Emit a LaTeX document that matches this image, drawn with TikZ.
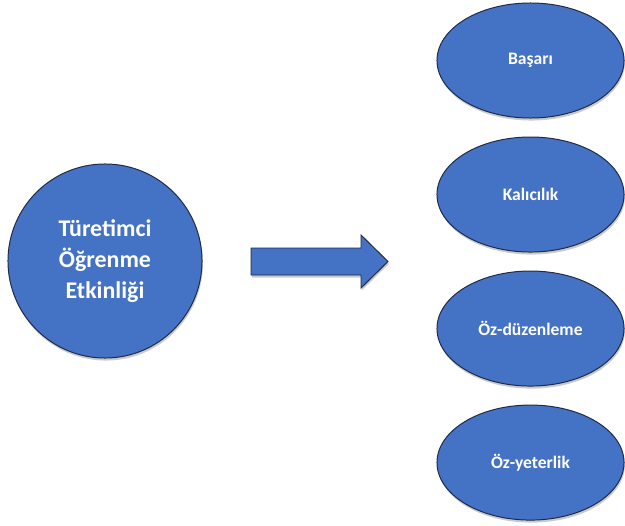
\documentclass[tikz,border=0pt]{standalone}
\usepackage{fontspec}
\setmainfont{Carlito}
\usetikzlibrary{shapes.geometric,shadows,positioning}
\definecolor{boxblue}{HTML}{4472C4}
\definecolor{rimblue}{HTML}{1F2A44}

\begin{document}
\begin{tikzpicture}[
  x=0.025cm, y=-0.025cm,
  shade/.style={drop shadow={shadow xshift=0.6pt, shadow yshift=-1.8pt, opacity=0.35, fill=black!60}},
  bigcircle/.style={circle, draw=rimblue, line width=0.7pt, fill=boxblue, shade, minimum size=4.85cm,
    inner sep=0pt, align=center, text=white, font=\bfseries\fontsize{17}{22}\selectfont},
  outcome/.style={ellipse, draw=rimblue, line width=0.7pt, fill=boxblue, shade, minimum width=4.675cm,
    minimum height=2.875cm, inner sep=0pt, text=white, font=\bfseries\fontsize{12.5}{14}\selectfont},
  blockarrow/.style={draw=rimblue, line width=0.7pt, fill=boxblue, shade}
]
\useasboundingbox (0,0) rectangle (625,526);

\node[bigcircle] (act) at (105,261) {Türetimci\\Öğrenme\\Etkinliği};

% outcomes
\node[outcome] (o1) at (530.5,60.5) {Başarı};
\node[outcome, below=0.45cm of o1] (o2) {Kalıcılık};
\node[outcome, below=0.45cm of o2] (o3) {Öz-düzenleme};
\node[outcome, below=0.45cm of o3] (o4) {Öz-yeterlik};

% block arrow
\draw[blockarrow] (251,248) -- (361,248) -- (361,235) -- (388,261.5)
  -- (361,288) -- (361,275) -- (251,275) -- cycle;
\end{tikzpicture}
\end{document}
